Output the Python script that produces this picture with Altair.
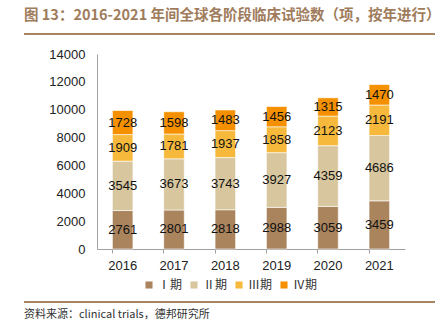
import altair as alt
import pandas as pd

years = ["2016", "2017", "2018", "2019", "2020", "2021"]
phases = ["Ⅰ期", "Ⅱ期", "Ⅲ期", "Ⅳ期"]
phase1 = [2761, 2801, 2818, 2988, 3059, 3459]
phase2 = [3545, 3673, 3743, 3927, 4359, 4686]
phase3 = [1909, 1781, 1937, 1858, 2123, 2191]
phase4 = [1728, 1598, 1483, 1456, 1315, 1470]
colors = ["#A9845D", "#D7C69E", "#F6B93B", "#F59100"]
y_ticks = [0, 2000, 4000, 6000, 8000, 10000, 12000, 14000]

title_text = "图 13：2016-2021 年间全球各阶段临床试验数（项，按年进行）"
source_text = "资料来源：clinical trials，德邦研究所"

rows = []
for i, y in enumerate(years):
    for k, (ph, vals) in enumerate(zip(phases, [phase1, phase2, phase3, phase4])):
        rows.append({"year": y, "phase": ph, "order": k, "value": vals[i]})
df = pd.DataFrame(rows)

W, H = 308, 195
LEFT, TOP = 97, 54

x_axis = alt.Axis(title=None, labelAngle=0, labelFont="Liberation Sans",
                  labelFontSize=13, labelColor="#222222", labelPadding=6,
                  domainColor="#A0A0A0", tickColor="#A0A0A0", tickSize=4,
                  bandPosition=0, grid=False)
y_axis = alt.Axis(title=None, values=y_ticks, format="d", labelOverlap=False,
                  labelFont="Liberation Sans",
                  labelFontSize=13, labelColor="#222222", labelPadding=12,
                  ticks=False, domainColor="#A0A0A0", grid=False)
x_scale = alt.Scale(paddingInner=0.6, paddingOuter=0.3)
y_scale = alt.Scale(domain=[0, 14000], nice=False)

base = alt.Chart(df)

bars = base.mark_bar(stroke="#FFFFFF", strokeWidth=0.6).encode(
    x=alt.X("year:N", sort=years, scale=x_scale, axis=x_axis),
    y=alt.Y("value:Q", stack="zero", scale=y_scale, axis=y_axis),
    color=alt.Color("phase:N", sort=phases,
                    scale=alt.Scale(domain=phases, range=colors),
                    legend=alt.Legend(title=None, orient="none", legendX=46, legendY=225,
                                      direction="horizontal", columns=4,
                                      symbolType="square", symbolSize=50,
                                      symbolStrokeWidth=0,
                                      labelFont="Noto Sans CJK SC", labelFontSize=12,
                                      labelColor="#333333", columnPadding=5,
                                      labelOffset=3)),
    order=alt.Order("order:Q"),
)

labels = base.transform_window(
    cum="sum(value)", groupby=["year"], sort=[alt.SortField("order")]
).transform_calculate(
    mid="datum.cum - datum.value / 2"
).mark_text(font="Liberation Sans", fontSize=13, color="#111111").encode(
    x=alt.X("year:N", sort=years, scale=x_scale, axis=x_axis),
    y=alt.Y("mid:Q", scale=y_scale, axis=y_axis),
    text=alt.Text("value:Q", format="d"),
)

one = pd.DataFrame({"a": [0]})
title = alt.Chart(one).mark_text(
    text=title_text, align="left", baseline="middle", font="Noto Sans CJK SC",
    fontWeight="bold", fontSize=14.5, color="#A07C5C"
).encode(x=alt.value(24 - LEFT), y=alt.value(16 - TOP))

line_top = alt.Chart(one).mark_rule(color="#A98462", strokeWidth=2).encode(
    x=alt.value(24 - LEFT), x2=alt.value(435 - LEFT), y=alt.value(34 - TOP))
line_bot = alt.Chart(one).mark_rule(color="#A98462", strokeWidth=2).encode(
    x=alt.value(24 - LEFT), x2=alt.value(435 - LEFT), y=alt.value(302 - TOP))

source = alt.Chart(one).mark_text(
    text=source_text, align="left", baseline="middle", font="Noto Sans CJK SC",
    fontSize=11, color="#333333"
).encode(x=alt.value(24 - LEFT), y=alt.value(315 - TOP))

chart = alt.layer(bars, labels, title, line_top, line_bot, source).properties(
    width=W, height=H,
    background="#FFFFFF",
    autosize=alt.AutoSizeParams(type="none"),
    padding={"left": LEFT, "top": TOP, "right": 440 - LEFT - W, "bottom": 326 - TOP - H},
).configure_view(stroke=None)

chart.save("out.html", embed_options={"renderer": "svg", "actions": False})
